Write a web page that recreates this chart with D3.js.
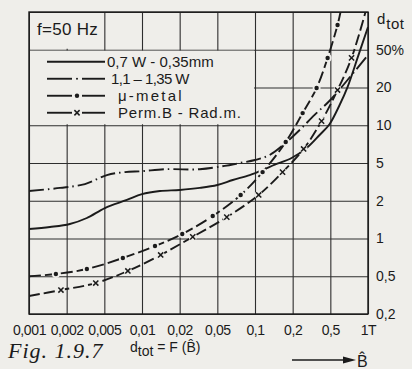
<!DOCTYPE html>
<html>
<head>
<meta charset="utf-8">
<script src="https://cdn.jsdelivr.net/npm/d3@7"></script>
<style>
  body { margin: 0; background: #efeeea; }
  svg { display: block; }
  text { fill: #1b1b1b; font-family: "Liberation Sans", Arial, sans-serif; }
  text.serif { font-family: "Liberation Serif", "Times New Roman", serif; font-style: italic; }
</style>
</head>
<body>
<div id="chart"></div>
<script>
// gridlines of the sheet: 1-2-5 steps, drawn equally spaced
var bTicks = [0.001, 0.002, 0.005, 0.01, 0.02, 0.05, 0.1, 0.2, 0.5, 1];
var bLabels = ['0,001', '0,002', '0,005', '0,01', '0,02', '0,05', '0,1', '0,2', '0,5', '1T'];
var dTicks = [0.2, 0.5, 1, 2, 5, 10, 20, 50, 100];
var dLabels = ['0,2', '0,5', '1', '2', '5', '10', '20', '50%', ''];

// [B in T, dtot in %]
var sheet07 = [[0.001, 1.19], [0.00147, 1.235], [0.00216, 1.305], [0.00327, 1.457], [0.00505, 1.75],
  [0.00757, 2.04], [0.01, 2.35], [0.0139, 2.53], [0.02, 2.6], [0.0326, 2.73], [0.05, 2.93],
  [0.0664, 3.31], [0.0907, 3.73], [0.115, 4.21], [0.144, 4.8], [0.196, 5.48], [0.281, 6.58],
  [0.385, 8.36], [0.49, 10.2], [0.593, 14.5], [0.686, 20.2], [0.825, 41], [1, 76]];
var sheet11 = [[0.001, 2.53], [0.00177, 2.73], [0.00312, 3.0], [0.00524, 3.73], [0.0073, 4.01],
  [0.01, 4.1], [0.0152, 4.3], [0.0326, 4.3], [0.0573, 4.66], [0.0755, 5.0], [0.1, 5.28],
  [0.131, 5.79], [0.179, 7.35], [0.237, 9.16], [0.341, 12.1], [0.5, 15.9], [0.686, 24], [1, 44]];
var muMetal = [[0.001, 0.5], [0.00164, 0.521], [0.00327, 0.571], [0.00703, 0.699], [0.0127, 0.871],
  [0.0213, 1.086], [0.0447, 1.51], [0.0768, 2.3], [0.115, 4.01], [0.176, 7.35], [0.255, 12.5],
  [0.358, 19.8], [0.468, 41], [0.571, 78.8], [0.603, 100]];
var permB = [[0.001, 0.309], [0.0018, 0.358], [0.00406, 0.424], [0.00771, 0.551], [0.0141, 0.739],
  [0.0275, 1.03], [0.0595, 1.48], [0.107, 2.3], [0.166, 4.01], [0.261, 6.47], [0.404, 10.8],
  [0.571, 19.1], [0.739, 41], [0.955, 100]];

var series = [
  {name: '0,7 W - 0,35mm', data: sheet07, dash: null, marker: null},
  {name: '1,1 \u2013 1,35 W', data: sheet11, dash: '15,4,1.5,4', marker: null},
  {name: '\u03bc-metal', data: muMetal, dash: '12,4', marker: 'dot'},
  {name: 'Perm.B - Rad.m.', data: permB, dash: '11,4', marker: 'cross'}
];

// legend lettering: start and letter spacing
var legendText = [{x: 107, ls: 0}, {x: 111, ls: -0.6}, {x: 118, ls: 2.2}, {x: 118, ls: 0.8}];

var ink = '#1b1b1b', paper = '#efeeea';
var width = 412, height = 369;
var margin = {left: 29, right: 44, top: 12, bottom: 55};
var plotW = width - margin.left - margin.right,
  plotH = height - margin.top - margin.bottom;

// piecewise log scales so every 1-2-5 step gets the same width
var x = d3.scaleLog().domain(bTicks)
  .range(bTicks.map(function (d, i) { return i * plotW / (bTicks.length - 1); }));
var y = d3.scaleLog().domain(dTicks)
  .range(dTicks.map(function (d, i) { return plotH - i * plotH / (dTicks.length - 1); }));

var svg = d3.select('#chart').append('svg')
  .attr('width', width).attr('height', height);
svg.append('rect').attr('width', width).attr('height', height).attr('fill', paper);

var g = svg.append('g').attr('transform', 'translate(' + margin.left + ',' + margin.top + ')');

// grid
g.append('g').attr('transform', 'translate(0,' + plotH + ')')
  .call(d3.axisBottom(x).tickValues(bTicks).tickSize(-plotH).tickFormat(''))
  .call(function (a) { a.select('.domain').remove(); });
g.append('g')
  .call(d3.axisLeft(y).tickValues(dTicks).tickSize(-plotW).tickFormat(''))
  .call(function (a) { a.select('.domain').remove(); });
g.selectAll('.tick line').attr('stroke', '#2e2e2e').attr('stroke-width', 1.1);

// blank cells for the f label and the legend
g.append('rect')
  .attr('x', x(0.001) + 1).attr('y', y(100) + 1)
  .attr('width', x(0.005) - x(0.001) - 2).attr('height', y(50) - y(100) - 2)
  .attr('fill', paper);
g.append('rect')
  .attr('x', x(0.001) + 1).attr('y', y(50) + 1)
  .attr('width', x(0.1) - x(0.001) - 2).attr('height', y(10) - y(50) - 2)
  .attr('fill', paper);

g.append('rect').attr('width', plotW).attr('height', plotH)
  .attr('fill', 'none').attr('stroke', ink).attr('stroke-width', 1.4);

// curves
g.append('clipPath').attr('id', 'plot-clip')
  .append('rect').attr('width', plotW).attr('height', plotH);

var line = d3.line()
  .x(function (d) { return x(d[0]); })
  .y(function (d) { return y(d[1]); })
  .curve(d3.curveCatmullRom.alpha(0.5));

var curves = g.append('g').attr('clip-path', 'url(#plot-clip)');

function drawMarker(sel, type, cx, cy) {
  sel.append('circle').attr('cx', cx).attr('cy', cy).attr('r', 4).attr('fill', paper);
  if (type === 'dot') {
    sel.append('circle').attr('cx', cx).attr('cy', cy).attr('r', 2.2).attr('fill', ink);
  } else {
    sel.append('path')
      .attr('d', 'M' + (cx - 2.6) + ',' + (cy - 2.6) + 'L' + (cx + 2.6) + ',' + (cy + 2.6) +
        'M' + (cx - 2.6) + ',' + (cy + 2.6) + 'L' + (cx + 2.6) + ',' + (cy - 2.6))
      .attr('stroke', ink).attr('stroke-width', 1.5);
  }
}

series.forEach(function (s) {
  curves.append('path')
    .attr('d', line(s.data))
    .attr('fill', 'none')
    .attr('stroke', ink)
    .attr('stroke-width', 1.9)
    .attr('stroke-dasharray', s.dash);
  if (s.marker) {
    s.data.slice(1, -1).forEach(function (d) {
      drawMarker(curves, s.marker, x(d[0]), y(d[1]));
    });
  }
});

// x labels
g.append('g').attr('transform', 'translate(0,' + plotH + ')')
  .call(d3.axisBottom(x).tickValues(bTicks).tickSize(0).tickPadding(11)
    .tickFormat(function (d, i) { return bLabels[i]; }))
  .call(function (a) { a.select('.domain').remove(); })
  .selectAll('text')
  .style('font-size', '14px')
  .attr('letter-spacing', -0.4);

// y labels on the right
g.append('g').attr('transform', 'translate(' + plotW + ',0)')
  .call(d3.axisRight(y).tickValues(dTicks).tickSize(0).tickPadding(8)
    .tickFormat(function (d, i) { return dLabels[i]; }))
  .call(function (a) { a.select('.domain').remove(); })
  .selectAll('text')
  .style('font-size', '14px');

var dt = g.append('text').attr('x', plotW + 9).attr('y', y(100) + 12).style('font-size', '15px');
dt.append('tspan').text('d');
dt.append('tspan').attr('dy', 5).attr('dx', 1).attr('letter-spacing', 0.5).text('tot');

// f label
g.append('text').attr('x', 8).attr('y', 23).style('font-size', '17px')
  .attr('letter-spacing', 0.3).text('f=50 Hz');

// legend
var legend = g.append('g');
series.forEach(function (s, i) {
  var ly = y(50) + 12 + i * 17;
  var row = legend.append('g');
  if (s.dash === null) {
    row.append('line').attr('x1', 18).attr('x2', 76).attr('y1', ly).attr('y2', ly)
      .attr('stroke', ink).attr('stroke-width', 1.9);
  } else {
    row.append('line').attr('x1', 18).attr('x2', 43).attr('y1', ly).attr('y2', ly)
      .attr('stroke', ink).attr('stroke-width', 1.9);
    row.append('line').attr('x1', 53).attr('x2', 76).attr('y1', ly).attr('y2', ly)
      .attr('stroke', ink).attr('stroke-width', 1.9);
    if (s.marker) {
      drawMarker(row, s.marker, 48, ly);
    } else {
      row.append('circle').attr('cx', 48).attr('cy', ly).attr('r', 1).attr('fill', ink);
    }
  }
  var lt = legendText[i];
  row.append('text')
    .attr('x', lt.x - margin.left).attr('y', ly + 5)
    .attr('letter-spacing', lt.ls)
    .style('font-size', '15px').text(s.name);
});

// caption
svg.append('text').attr('class', 'serif').attr('x', 8).attr('y', 358)
  .style('font-size', '22px').attr('letter-spacing', 1)
  .text('Fig. 1.9.7');

var fn = svg.append('text').attr('x', 130).attr('y', 352).style('font-size', '14px');
fn.append('tspan').text('d');
fn.append('tspan').attr('dy', 4).text('tot');
fn.append('tspan').attr('dy', -4).text(' = F (B\u0302)');

svg.append('line').attr('x1', 292).attr('x2', 346).attr('y1', 360).attr('y2', 360)
  .attr('stroke', ink).attr('stroke-width', 1.5);
svg.append('path').attr('d', 'M343,356.5L356,360L343,363.5Z').attr('fill', ink);
svg.append('text').attr('x', 357).attr('y', 367).style('font-size', '16px').text('B\u0302');
</script>
</body>
</html>
